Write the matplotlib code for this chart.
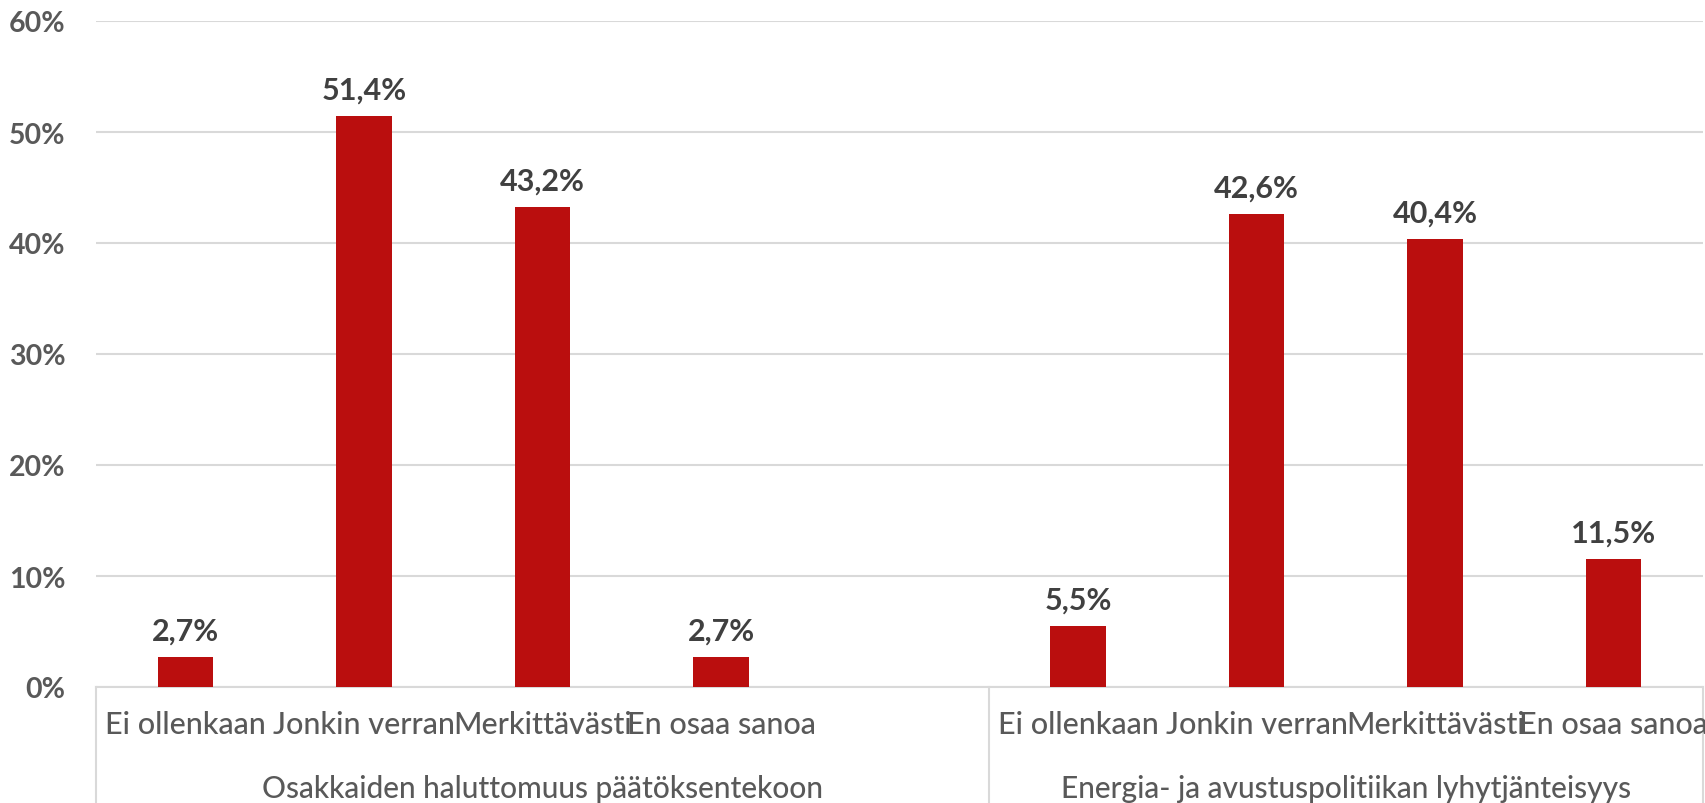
import matplotlib.pyplot as plt
import matplotlib.transforms as mtransforms

# data
groups = ['Osakkaiden haluttomuus päätöksentekoon',
          'Energia- ja avustuspolitiikan lyhytjänteisyys']
categories = ['Ei ollenkaan', 'Jonkin verran', 'Merkittävästi', 'En osaa sanoa']
values_g1 = [2.7, 51.4, 43.2, 2.7]
values_g2 = [5.5, 42.6, 40.4, 11.5]
y_ticks = [0, 10, 20, 30, 40, 50, 60]

plt.rcParams['font.family'] = ['Lato', 'DejaVu Sans']

bar_color = '#BA0E0E'
grid_color = '#D9D9D9'
tick_color = '#595959'
label_color = '#404040'

fig = plt.figure(figsize=(17.06, 8.04), dpi=100)
ax = fig.add_axes([96 / 1706, 1 - 688 / 804, (1703 - 96) / 1706, (688 - 22) / 804])

# first group has an empty fifth slot, like the original chart
x_g1 = [0, 1, 2, 3]
x_g2 = [5, 6, 7, 8]

ax.bar(x_g1, values_g1, width=0.31, color=bar_color, zorder=3)
ax.bar(x_g2, values_g2, width=0.31, color=bar_color, zorder=3)

for xs, vals in [(x_g1, values_g1), (x_g2, values_g2)]:
    for x, v in zip(xs, vals):
        ax.annotate(f'{v:.1f}%'.replace('.', ','), (x, v), xytext=(0, 19),
                    textcoords='offset points', ha='center', va='center',
                    fontsize=22, fontweight='bold', color=label_color)

ax.set_xlim(-0.5, 8.5)
ax.set_ylim(0, 60)
ax.set_yticks(y_ticks)
ax.set_yticklabels([f'{t}%' for t in y_ticks], fontsize=20.5, fontweight='bold',
                   color=tick_color)
ax.tick_params(axis='y', length=0, pad=22)
ax.set_xticks([])
ax.grid(axis='y', color=grid_color, linewidth=1.5, zorder=0)
for s in ax.spines.values():
    s.set_visible(False)

trans = mtransforms.blended_transform_factory(ax.transData, ax.transAxes)
# category axis lines
ax.plot([-0.5, 8.5], [0, 0], transform=trans, color=grid_color, lw=1.5,
        clip_on=False, zorder=2)
for xv in [-0.5, 4.5, 8.5]:
    ax.plot([xv, xv], [0, -0.3], transform=trans, color=grid_color, lw=1.5,
            clip_on=False)

for xs in [x_g1, x_g2]:
    for x, c in zip(xs, categories):
        ax.text(x, -0.055, c, transform=trans, ha='center', va='center',
                fontsize=22, fontweight='medium', color=tick_color)

ax.text(2, -0.152, groups[0], transform=trans, ha='center', va='center',
        fontsize=21.5, fontweight='medium', color=tick_color)
ax.text(6.5, -0.152, groups[1], transform=trans, ha='center', va='center',
        fontsize=21.5, fontweight='medium', color=tick_color)

fig.savefig('out.png', dpi=100)
